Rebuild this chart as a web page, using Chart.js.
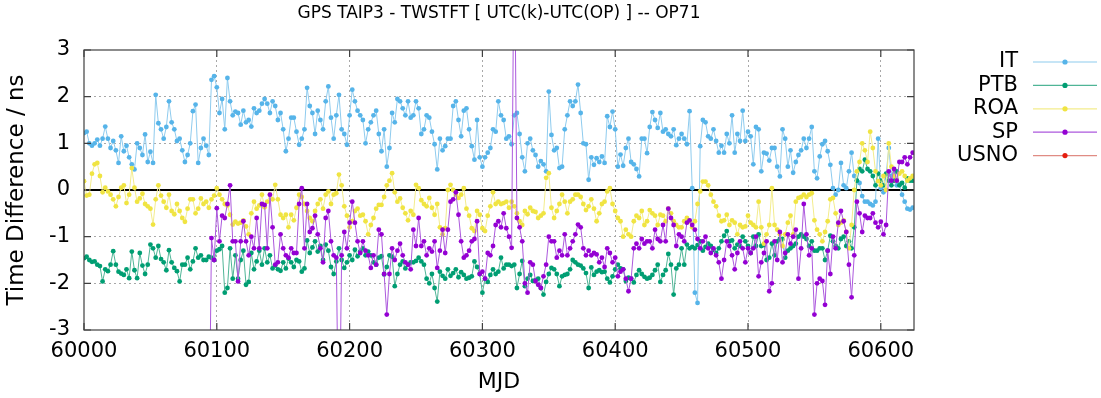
<!DOCTYPE html>
<html><head><meta charset="utf-8">
<script src="https://cdn.jsdelivr.net/npm/chart.js@4.4.1/dist/chart.umd.min.js"></script>
<style>html,body{margin:0;padding:0;background:#fff}#wrap{width:1101px;height:398px}</style>
</head><body><div id="wrap"><canvas id="c" width="1101" height="398"></canvas></div>
<script>
const chartTitle = "GPS TAIP3 - TWSTFT [ UTC(k)-UTC(OP) ] -- OP71";
const xTitle = "MJD";
const yTitle = "Time Difference / ns";
const seriesNames = ["IT", "PTB", "ROA", "SP", "USNO"];
const yTicks = [-3, -2, -1, 0, 1, 2, 3];
const xTicks = [60000, 60100, 60200, 60300, 60400, 60500, 60600];

const mjd = [
60000,60002,60004,60006,60008,60010,60012,60014,60016,60018,
60020,60022,60024,60026,60028,60030,60032,60034,60036,60038,
60040,60042,60044,60046,60048,60050,60052,60054,60056,60058,
60060,60062,60064,60066,60068,60070,60072,60074,60076,60078,
60080,60082,60084,60086,60088,60090,60092,60094,60096,60098,
60100,60102,60104,60106,60108,60110,60112,60114,60116,60118,
60120,60122,60124,60126,60128,60130,60132,60134,60136,60138,
60140,60142,60144,60146,60148,60150,60152,60154,60156,60158,
60160,60162,60164,60166,60168,60170,60172,60174,60176,60178,
60180,60182,60184,60186,60188,60190,60192,60194,60196,60198,
60200,60202,60204,60206,60208,60210,60212,60214,60216,60218,
60220,60222,60224,60226,60228,60230,60232,60234,60236,60238,
60240,60242,60244,60246,60248,60250,60252,60254,60256,60258,
60260,60262,60264,60266,60268,60270,60272,60274,60276,60278,
60280,60282,60284,60286,60288,60290,60292,60294,60296,60298,
60300,60302,60304,60306,60308,60310,60312,60314,60316,60318,
60320,60322,60324,60326,60328,60330,60332,60334,60336,60338,
60340,60342,60344,60346,60348,60350,60352,60354,60356,60358,
60360,60362,60364,60366,60368,60370,60372,60374,60376,60378,
60380,60382,60384,60386,60388,60390,60392,60394,60396,60398,
60400,60402,60404,60406,60408,60410,60412,60414,60416,60418,
60420,60422,60424,60426,60428,60430,60432,60434,60436,60438,
60440,60442,60444,60446,60448,60450,60452,60454,60456,60458,
60460,60462,60464,60466,60468,60470,60472,60474,60476,60478,
60480,60482,60484,60486,60488,60490,60492,60494,60496,60498,
60500,60502,60504,60506,60508,60510,60512,60514,60516,60518,
60520,60522,60524,60526,60528,60530,60532,60534,60536,60538,
60540,60542,60544,60546,60548,60550,60552,60554,60556,60558,
60560,60562,60564,60566,60568,60570,60572,60574,60576,60578,
60580,60582,60584,60586,60588,60590,60592,60594,60596,60598,
60600,60602,60604,60606,60608,60610,60612,60614,60616,60618,
60620,60622,60624];

const itValues = [
1.22,1.25,1.0,0.95,1.0,1.08,0.95,1.1,1.36,1.1,
0.9,1.05,0.85,0.58,1.15,0.83,0.95,0.7,0.55,0.44,
1.0,0.9,0.75,1.19,0.6,0.82,0.58,2.04,1.43,1.3,
1.1,1.35,1.9,1.45,1.3,1.05,1.1,0.85,0.6,0.75,
1.0,1.69,1.83,0.58,0.9,1.1,0.95,0.75,2.36,2.44,
2.2,1.65,1.95,1.3,2.4,1.9,1.6,1.68,1.65,1.4,
1.7,1.45,1.5,1.36,1.75,1.65,1.7,1.85,1.95,1.85,
1.65,1.9,1.8,1.5,1.65,1.3,0.83,1.1,1.55,1.55,
1.25,0.97,1.1,1.3,2.19,1.8,1.65,1.2,1.7,1.5,
1.3,1.9,2.22,1.55,1.1,1.6,2.04,1.3,1.2,0.97,
1.6,2.15,1.9,1.7,1.6,1.5,1.0,1.3,1.45,1.6,
1.7,1.2,0.83,1.3,0.5,0.9,1.65,1.45,1.95,1.9,
1.75,1.6,1.9,1.55,1.6,1.9,1.75,1.2,1.3,1.6,
1.55,1.25,0.98,0.44,1.1,0.85,0.94,1.1,1.1,1.8,
1.9,1.5,1.15,1.7,1.75,1.3,0.94,0.65,1.5,0.7,
0.5,0.7,0.8,0.9,1.3,1.25,1.9,1.6,1.5,1.1,
1.15,0.98,1.6,1.65,1.2,0.7,0.4,1.0,1.1,0.85,
0.75,0.5,0.62,0.55,0.4,2.11,1.18,0.85,0.9,0.47,
0.5,1.3,1.6,1.9,1.8,1.9,2.26,1.65,1.0,0.98,
0.22,0.7,0.54,0.68,0.6,0.72,0.58,1.58,1.35,1.68,
1.3,0.5,0.76,0.52,0.9,1.1,0.6,0.55,0.45,0.29,
1.1,1.1,0.79,1.35,1.67,1.5,1.33,1.65,1.25,1.3,
1.2,1.15,1.3,0.96,1.1,1.2,1.1,0.98,1.69,0.04,
-2.2,-2.42,0.94,1.5,1.45,1.15,1.1,1.3,1.05,0.8,
0.95,0.8,1.2,1.0,1.6,0.8,1.2,1.05,1.7,1.05,
1.25,1.15,0.55,1.35,1.3,0.4,0.8,0.78,0.63,0.9,
0.9,0.5,0.29,1.3,1.1,0.5,0.85,0.37,0.6,0.75,
0.85,1.1,0.9,1.1,1.35,0.4,0.25,0.72,0.98,1.05,
0.83,0.54,0.04,-0.1,0.0,0.58,0.1,0.04,0.4,0.8,
0.3,0.2,0.15,-0.13,-0.25,-0.25,-0.3,-0.33,-0.25,1.1,
0.04,-0.05,0.33,0.9,0.3,0.37,0.1,0.12,-0.1,-0.25,
-0.4,-0.42,-0.38];

const ptbValues = [
-1.46,-1.43,-1.5,-1.54,-1.53,-1.6,-1.63,-1.96,-1.7,-1.74,
-1.6,-1.31,-1.6,-1.75,-1.79,-1.82,-1.7,-1.89,-1.32,-1.72,
-1.89,-1.35,-1.62,-1.8,-1.6,-1.17,-1.25,-1.45,-1.2,-1.48,
-1.55,-1.72,-1.29,-1.55,-1.67,-1.74,-1.96,-1.6,-1.6,-1.45,
-1.7,-1.53,-1.25,-1.45,-1.4,-1.5,-1.5,-1.43,-1.45,-1.5,
-1.3,-1.27,-1.2,-2.2,-2.1,-1.25,-1.9,-1.4,-1.9,-1.5,
-1.3,-2.03,-1.97,-1.35,-1.7,-1.53,-1.3,-1.6,-1.25,-1.55,
-1.4,-1.68,-1.62,-1.7,-1.73,-1.55,-1.68,-1.47,-1.55,-1.65,
-1.5,-1.53,-1.75,-1.68,-1.08,-1.35,-1.23,-1.1,-1.32,-1.2,
-1.5,-1.17,-1.3,-1.65,-1.8,-1.53,-1.25,-1.5,-1.67,-1.55,
-1.4,-1.5,-1.28,-1.42,-1.32,-1.25,-1.4,-1.32,-1.4,-1.55,
-1.6,-1.45,-1.42,-1.81,-1.65,-1.4,-1.43,-2.06,-1.8,-1.6,
-1.53,-1.68,-1.6,-1.55,-1.55,-1.52,-1.45,-1.53,-1.6,-1.9,
-2.0,-1.8,-2.1,-2.39,-1.75,-1.84,-1.9,-1.7,-1.84,-1.78,
-1.7,-1.87,-1.76,-1.82,-1.9,-1.88,-1.85,-1.53,-1.65,-1.8,
-2.2,-1.9,-1.97,-1.82,-1.7,-1.8,-1.75,-1.45,-1.68,-1.6,
-1.6,-1.63,-1.6,-2.1,-1.8,-1.52,-2.06,-1.9,-1.82,-1.95,
-1.93,-1.9,-2.1,-2.24,-1.97,-1.8,-1.67,-1.7,-1.8,-2.06,
-1.85,-1.82,-1.8,-1.7,-1.5,-1.55,-1.6,-1.62,-1.68,-1.78,
-2.1,-1.66,-1.82,-1.75,-1.72,-1.76,-1.75,-1.9,-1.98,-1.85,
-1.7,-1.6,-1.68,-1.7,-1.95,-1.88,-1.9,-1.98,-1.82,-1.72,
-1.8,-1.86,-1.9,-1.88,-1.82,-1.72,-1.6,-1.97,-1.82,-1.72,
-1.37,-1.6,-2.24,-1.68,-1.6,-1.25,-1.6,-1.17,-1.25,-1.22,
-1.25,-1.18,-1.1,-1.3,-1.22,-1.15,-1.2,-1.28,-1.35,-1.25,
-1.1,-0.98,-0.88,-1.1,-1.08,-1.25,-1.17,-1.2,-1.0,-1.1,
-1.2,-1.35,-1.0,-1.2,-0.95,-1.2,-1.18,-1.5,-1.45,-1.15,
-1.4,-1.1,-1.05,-1.05,-1.45,-1.3,-1.25,-1.2,-1.15,-1.0,
-0.95,-1.0,-1.05,-1.2,-1.1,-1.3,-1.3,-1.25,-1.25,-1.5,
-1.3,-0.98,-1.1,-1.2,-1.25,-1.05,-1.0,-1.2,-1.1,-1.25,
-0.8,0.2,0.45,0.4,0.65,0.45,0.4,0.3,0.1,0.35,
0.2,0.1,0.35,0.2,0.1,0.2,0.4,0.1,0.15,0.05,
0.25,0.2,0.2];

const roaValues = [
0.19,-0.12,-0.1,0.35,0.55,0.58,0.3,-0.05,0.05,-0.03,
-0.1,-0.2,-0.35,-0.15,0.05,0.1,-0.28,-0.1,0.47,0.05,
-0.25,-0.18,-0.08,-0.3,-0.35,-0.4,-0.74,-0.2,0.1,-0.12,
-0.25,-0.38,-0.1,-0.45,-0.52,-0.3,-0.45,-0.6,-0.68,-0.4,
-0.2,-0.2,-0.5,-0.4,-0.18,-0.3,-0.25,-0.38,-0.2,-0.12,
0.04,-0.1,-0.2,-0.3,-0.33,-0.53,-0.74,-0.68,-0.72,-0.7,
-0.65,-0.78,-0.95,-0.5,-0.25,-0.4,-0.33,-0.1,-0.37,-0.25,
-0.1,-0.2,0.11,-0.2,-0.53,-0.6,-0.53,-0.8,-0.53,-0.65,
-0.38,-0.1,-0.15,-0.3,-0.45,-0.6,-0.67,-0.45,-0.3,-0.2,
-0.4,-0.1,-0.03,-0.3,-0.1,-0.07,0.33,0.1,-0.35,-0.55,
-0.8,-0.67,-0.45,-0.4,-0.55,-0.53,-0.67,-0.95,-0.75,-0.6,
-0.4,-0.32,-0.32,-0.15,0.1,0.2,0.36,-0.05,-0.25,-0.18,
-0.38,-0.5,-0.65,-0.45,-0.53,0.11,0.04,-0.22,-0.3,-0.35,
-0.17,-0.38,-0.53,-0.3,-0.8,-0.95,-0.82,0.0,0.11,0.0,
-0.1,-0.17,-0.1,0.04,-0.4,-0.55,-0.82,-0.88,-0.45,-0.53,
-0.82,-0.88,-0.55,-0.35,-0.05,-0.3,-0.25,-0.3,-0.28,-0.25,
-0.38,-0.25,-0.35,-0.5,-0.67,-0.75,-0.45,-0.52,-0.38,-0.45,
-0.47,-0.6,-0.55,-0.5,0.26,0.36,-0.38,-0.6,-0.45,-0.3,
-0.1,-0.25,-0.5,-0.25,-0.2,-0.1,-0.1,-0.15,-0.3,-0.43,
-0.35,-0.2,-0.4,-0.67,-0.5,-0.3,-0.25,-0.03,0.04,-0.3,
-0.45,-0.6,-0.67,-1.0,-0.85,-0.95,-1.0,-0.67,-0.55,-0.6,
-0.45,-0.75,-0.67,-0.43,-0.5,-0.55,-0.75,-0.53,-0.55,-0.67,
-0.4,-0.5,-0.67,-0.75,-0.8,-0.8,-0.67,-0.6,-0.67,-0.8,
-0.67,-0.3,-0.03,0.18,0.18,0.1,-0.1,-0.25,-0.35,-0.55,
-0.67,-0.65,-0.53,-0.75,-0.65,-0.7,-0.95,-0.75,-0.8,-0.78,
-0.55,-0.7,-0.75,-0.8,-0.25,-0.8,-1.15,-0.95,-0.75,0.04,
-0.75,-0.85,-0.95,-1.2,-0.95,-0.7,-0.55,-0.95,-0.25,-0.17,
-0.15,-0.1,-0.15,-0.1,-0.07,-0.65,-0.85,-0.95,-1.1,-0.9,
-0.67,-0.2,-0.17,-0.5,-0.75,-0.7,-0.65,-0.9,-1.25,-0.75,
0.0,0.4,0.6,1.0,0.85,0.6,1.25,0.9,0.4,0.19,
0.1,0.3,0.0,1.0,0.5,0.3,0.2,0.35,0.4,0.3,
0.2,0.25,0.3];

const spValues = [
null,null,null,null,null,null,null,null,null,null,
null,null,null,null,null,null,null,null,null,null,
null,null,null,null,null,null,null,null,null,null,
null,null,null,null,null,null,null,null,null,null,
null,null,null,null,null,null,null,-6,-1.03,-1.5,
-0.39,-1.1,-0.55,-0.6,-0.3,0.1,-1.1,-1.1,-1.96,-1.1,
-0.67,-1.1,-1.4,-1.0,-1.25,-0.6,-1.25,-0.3,-0.32,-1.25,
-0.1,-0.8,-1.6,-1.55,-0.95,-1.25,-1.4,-1.45,-1.25,-1.35,
-1.35,-0.3,0.04,-1.25,-0.3,-0.9,-0.82,-0.55,-0.95,-1.25,
-1.55,-0.6,-0.45,-1.1,-1.4,-1.45,-6,-1.4,-0.9,-1.25,
-0.7,-0.25,-0.7,-1.1,-1.35,-1.1,-1.3,-1.4,-1.67,-1.4,
-1.6,-0.85,-0.95,-1.8,-2.67,-1.8,-1.25,-1.5,-1.3,-1.15,
-1.4,-1.55,-1.6,-1.7,-0.85,-1.2,-0.6,-1.2,-1.1,-1.4,
-1.25,-1.32,-1.1,-1.67,-1.3,-0.85,-1.35,-0.85,-0.25,-0.2,
-0.05,-0.53,-1.1,-1.45,-1.4,-1.3,-1.1,-1.05,-0.67,-1.8,
-1.75,-1.9,-1.35,-1.4,-1.2,-0.75,-0.67,-0.8,-0.5,-0.82,
-1.0,-1.24,6,-0.6,-0.8,-1.1,-2.0,-2.2,-1.55,-1.6,
-1.95,-2.03,-2.1,-1.85,-1.6,-1.0,-1.1,-1.1,-1.45,-1.3,
-1.4,-0.95,-1.4,-1.25,-1.1,-0.95,-0.74,-0.8,-1.25,-1.4,
-1.3,-1.4,-1.35,-1.38,-1.55,-1.45,-1.65,-1.25,-1.35,-1.55,
-1.45,-1.85,-1.75,-1.7,-1.9,-2.17,-1.9,-1.25,-1.15,-1.25,
-1.05,-1.15,-1.1,-1.1,-1.25,-0.85,-1.05,-1.1,-0.75,-1.1,
-0.4,-0.6,-0.75,-1.2,-0.95,-1.0,-1.1,-0.7,-0.65,-0.75,
-0.85,-1.05,-1.25,-1.1,-1.0,-1.25,-1.35,-1.25,-1.4,-1.55,
-1.9,-1.5,-1.1,-1.2,-1.4,-1.7,-1.35,-1.1,-1.25,-1.55,
-1.25,-1.35,-1.25,-1.0,-1.85,-1.55,-1.35,-1.1,-2.17,-2.0,
-1.1,-1.5,-0.9,-1.55,-1.35,-0.95,-1.15,-1.0,-0.85,-1.9,
-1.25,-0.3,-0.95,-1.4,-1.25,-2.67,-2.0,-1.9,-1.95,-2.46,
-1.3,-1.8,-1.0,-1.25,-0.7,-0.45,-0.67,-0.9,-1.6,-2.3,
-1.4,-0.25,-0.5,-0.9,-0.55,-0.6,-0.6,-0.5,-0.7,-0.8,
-0.68,-0.95,-0.75,0.4,0.2,0.45,0.2,0.6,0.6,0.7,
0.55,0.7,0.8];

const usnoValues = [];

const pointColors = ["#56b4e9", "#009e73", "#f0e442", "#9400d3", "#e51e10"];
const lineColors = ["#8ecbee", "#4fb596", "#f3ec8c", "#ac58dd", "#e08c84"];
const allValues = [itValues, ptbValues, roaValues, spValues, usnoValues];

const FONT = "'DejaVu Sans', 'Liberation Sans', sans-serif";
const FS = 21;

const datasets = seriesNames.map((name, k) => ({
  label: name,
  data: allValues[k].map((v, i) => ({ x: mjd[i], y: v })),
  borderColor: lineColors[k],
  backgroundColor: pointColors[k],
  pointBackgroundColor: pointColors[k],
  pointBorderWidth: 0,
  pointRadius: 2.4,
  borderWidth: 1,
  spanGaps: false,
  order: 5 - k,
  clip: 0
}));

const decor = {
  id: 'decor',
  beforeDatasetsDraw(chart) {
    const { ctx, chartArea: a, scales: { y } } = chart;
    ctx.save();
    ctx.strokeStyle = '#000';
    ctx.lineWidth = 2;
    const y0 = y.getPixelForValue(0);
    ctx.beginPath(); ctx.moveTo(a.left, y0); ctx.lineTo(a.right, y0); ctx.stroke();
    ctx.restore();
  },
  afterDraw(chart) {
    const { ctx, chartArea: a, scales: { x, y } } = chart;
    ctx.save();
    ctx.strokeStyle = '#404040';
    ctx.lineWidth = 1.2;
    ctx.strokeRect(a.left, a.top, a.right - a.left, a.bottom - a.top);
    const tl = 7;
    ctx.beginPath();
    xTicks.forEach(v => {
      const px = x.getPixelForValue(v);
      ctx.moveTo(px, a.bottom); ctx.lineTo(px, a.bottom - tl);
      ctx.moveTo(px, a.top); ctx.lineTo(px, a.top + tl);
    });
    yTicks.forEach(v => {
      const py = y.getPixelForValue(v);
      ctx.moveTo(a.left, py); ctx.lineTo(a.left + tl, py);
      ctx.moveTo(a.right, py); ctx.lineTo(a.right - tl, py);
    });
    ctx.stroke();
    ctx.fillStyle = '#000';
    ctx.font = `17px ${FONT}`;
    ctx.textAlign = 'center';
    ctx.textBaseline = 'middle';
    ctx.fillText(chartTitle, (a.left + a.right) / 2, 14);
    ctx.font = `${FS}px ${FONT}`;
    ctx.textAlign = 'right';
    chart.data.datasets.forEach((ds, k) => {
      const ry = 62 + k * 23.4;
      ctx.fillStyle = '#000';
      ctx.fillText(ds.label, 1018, ry);
      ctx.strokeStyle = lineColors[k];
      ctx.lineWidth = 1.2;
      ctx.beginPath(); ctx.moveTo(1033, ry); ctx.lineTo(1097, ry); ctx.stroke();
      ctx.fillStyle = pointColors[k];
      ctx.beginPath(); ctx.arc(1065, ry, 2.6, 0, Math.PI * 2); ctx.fill();
    });
    ctx.restore();
  }
};

const gridColor = (edgeVals) => (c) => {
  const v = c.tick && c.tick.value;
  return edgeVals.includes(v) ? 'rgba(0,0,0,0)' : '#a8a8a8';
};

new Chart(document.getElementById('c'), {
  type: 'line',
  data: { datasets },
  plugins: [decor],
  options: {
    responsive: false,
    animation: false,
    events: [],
    layout: { padding: { top: 50, right: 187, bottom: 0, left: 0 } },
    plugins: { legend: { display: false }, tooltip: { enabled: false }, title: { display: false } },
    scales: {
      x: {
        type: 'linear',
        min: 60000, max: 60625,
        afterFit: (s) => { s.height = 68; },
        afterBuildTicks: (s) => { s.ticks = xTicks.map(v => ({ value: v })); },
        ticks: { stepSize: 100, includeBounds: false, padding: 9, color: '#000', maxRotation: 0,
                 font: { family: FONT, size: FS }, callback: (v) => String(v) },
        grid: { drawTicks: false, color: gridColor([60000]), lineWidth: 1 },
        border: { display: false, dash: [2, 3] },
        title: { display: true, text: xTitle, color: '#000', font: { family: FONT, size: 22 }, padding: { top: 2, bottom: 3 } }
      },
      y: {
        min: -3, max: 3,
        afterFit: (s) => { s.width = 84; },
        afterBuildTicks: (s) => { s.ticks = yTicks.map(v => ({ value: v })); },
        ticks: { stepSize: 1, padding: 14, color: '#000', font: { family: FONT, size: FS }, callback: (v) => String(v) },
        grid: { drawTicks: false, color: gridColor([-3, 0, 3]), lineWidth: 1 },
        border: { display: false, dash: [2, 3] },
        title: { display: true, text: yTitle, color: '#000', font: { family: FONT, size: 23 }, padding: { top: 3, bottom: 4 } }
      }
    }
  }
});
</script>
</body></html>
